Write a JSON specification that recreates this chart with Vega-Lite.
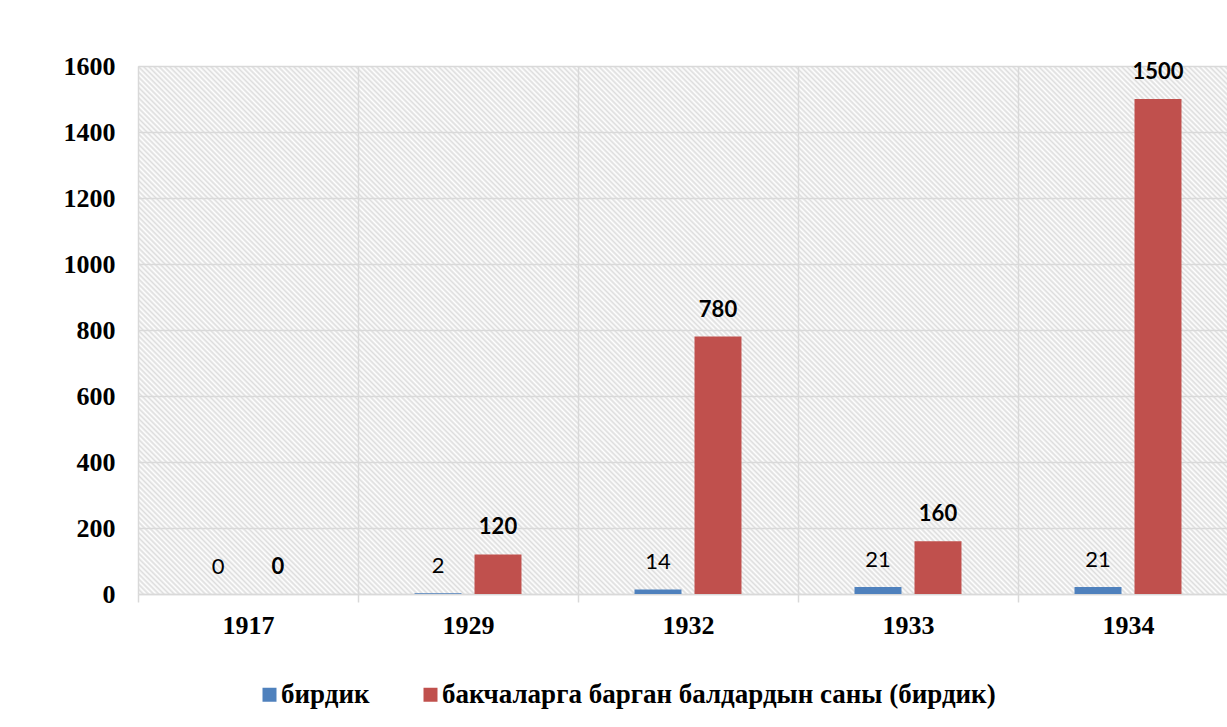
{
  "$schema": "https://vega.github.io/schema/vega-lite/v6.json",
  "autosize": {"type": "none"},
  "width": 1089,
  "height": 528,
  "padding": {"left": 138, "top": 66, "right": 0, "bottom": 133},
  "background": "white",
  "view": {"stroke": null, "fill": {"gradient": "linear", "x1": 0, "y1": 1, "x2": 1.20223, "y2": 0.4171, "stops": [
{"offset":0,"color":"#ddd"},{"offset":0.0016,"color":"#fff"},{"offset":0.0032,"color":"#ddd"},{"offset":0.0048,"color":"#fff"},{"offset":0.0064,"color":"#ddd"},{"offset":0.008,"color":"#fff"},{"offset":0.0096,"color":"#ddd"},{"offset":0.0112,"color":"#fff"},{"offset":0.0128,"color":"#ddd"},{"offset":0.0144,"color":"#fff"},{"offset":0.016,"color":"#ddd"},{"offset":0.0176,"color":"#fff"},{"offset":0.0192,"color":"#ddd"},{"offset":0.0208,"color":"#fff"},{"offset":0.0224,"color":"#ddd"},{"offset":0.024,"color":"#fff"},{"offset":0.0256,"color":"#ddd"},{"offset":0.0272,"color":"#fff"},{"offset":0.0288,"color":"#ddd"},{"offset":0.0304,"color":"#fff"},{"offset":0.032,"color":"#ddd"},{"offset":0.0336,"color":"#fff"},{"offset":0.0352,"color":"#ddd"},{"offset":0.0368,"color":"#fff"},{"offset":0.0384,"color":"#ddd"},
{"offset":0.04,"color":"#fff"},{"offset":0.0416,"color":"#ddd"},{"offset":0.0432,"color":"#fff"},{"offset":0.0448,"color":"#ddd"},{"offset":0.0464,"color":"#fff"},{"offset":0.048,"color":"#ddd"},{"offset":0.0496,"color":"#fff"},{"offset":0.0512,"color":"#ddd"},{"offset":0.0528,"color":"#fff"},{"offset":0.0544,"color":"#ddd"},{"offset":0.056,"color":"#fff"},{"offset":0.0576,"color":"#ddd"},{"offset":0.0592,"color":"#fff"},{"offset":0.0608,"color":"#ddd"},{"offset":0.0624,"color":"#fff"},{"offset":0.064,"color":"#ddd"},{"offset":0.0656,"color":"#fff"},{"offset":0.0672,"color":"#ddd"},{"offset":0.0688,"color":"#fff"},{"offset":0.0704,"color":"#ddd"},{"offset":0.072,"color":"#fff"},{"offset":0.0736,"color":"#ddd"},{"offset":0.0752,"color":"#fff"},{"offset":0.0768,"color":"#ddd"},{"offset":0.0784,"color":"#fff"},
{"offset":0.08,"color":"#ddd"},{"offset":0.0816,"color":"#fff"},{"offset":0.0832,"color":"#ddd"},{"offset":0.0848,"color":"#fff"},{"offset":0.0864,"color":"#ddd"},{"offset":0.088,"color":"#fff"},{"offset":0.0896,"color":"#ddd"},{"offset":0.0912,"color":"#fff"},{"offset":0.0928,"color":"#ddd"},{"offset":0.0944,"color":"#fff"},{"offset":0.096,"color":"#ddd"},{"offset":0.0976,"color":"#fff"},{"offset":0.0992,"color":"#ddd"},{"offset":0.1008,"color":"#fff"},{"offset":0.1024,"color":"#ddd"},{"offset":0.104,"color":"#fff"},{"offset":0.1056,"color":"#ddd"},{"offset":0.1072,"color":"#fff"},{"offset":0.1088,"color":"#ddd"},{"offset":0.1104,"color":"#fff"},{"offset":0.112,"color":"#ddd"},{"offset":0.1136,"color":"#fff"},{"offset":0.1152,"color":"#ddd"},{"offset":0.1168,"color":"#fff"},{"offset":0.1184,"color":"#ddd"},
{"offset":0.12,"color":"#fff"},{"offset":0.1216,"color":"#ddd"},{"offset":0.1232,"color":"#fff"},{"offset":0.1248,"color":"#ddd"},{"offset":0.1264,"color":"#fff"},{"offset":0.128,"color":"#ddd"},{"offset":0.1296,"color":"#fff"},{"offset":0.1312,"color":"#ddd"},{"offset":0.1328,"color":"#fff"},{"offset":0.1344,"color":"#ddd"},{"offset":0.136,"color":"#fff"},{"offset":0.1376,"color":"#ddd"},{"offset":0.1392,"color":"#fff"},{"offset":0.1408,"color":"#ddd"},{"offset":0.1424,"color":"#fff"},{"offset":0.144,"color":"#ddd"},{"offset":0.1456,"color":"#fff"},{"offset":0.1472,"color":"#ddd"},{"offset":0.1488,"color":"#fff"},{"offset":0.1504,"color":"#ddd"},{"offset":0.152,"color":"#fff"},{"offset":0.1536,"color":"#ddd"},{"offset":0.1552,"color":"#fff"},{"offset":0.1568,"color":"#ddd"},{"offset":0.1584,"color":"#fff"},
{"offset":0.16,"color":"#ddd"},{"offset":0.1616,"color":"#fff"},{"offset":0.1632,"color":"#ddd"},{"offset":0.1648,"color":"#fff"},{"offset":0.1664,"color":"#ddd"},{"offset":0.168,"color":"#fff"},{"offset":0.1696,"color":"#ddd"},{"offset":0.1712,"color":"#fff"},{"offset":0.1728,"color":"#ddd"},{"offset":0.1744,"color":"#fff"},{"offset":0.176,"color":"#ddd"},{"offset":0.1776,"color":"#fff"},{"offset":0.1792,"color":"#ddd"},{"offset":0.1808,"color":"#fff"},{"offset":0.1824,"color":"#ddd"},{"offset":0.184,"color":"#fff"},{"offset":0.1856,"color":"#ddd"},{"offset":0.1872,"color":"#fff"},{"offset":0.1888,"color":"#ddd"},{"offset":0.1904,"color":"#fff"},{"offset":0.192,"color":"#ddd"},{"offset":0.1936,"color":"#fff"},{"offset":0.1952,"color":"#ddd"},{"offset":0.1968,"color":"#fff"},{"offset":0.1984,"color":"#ddd"},
{"offset":0.2,"color":"#fff"},{"offset":0.2016,"color":"#ddd"},{"offset":0.2032,"color":"#fff"},{"offset":0.2048,"color":"#ddd"},{"offset":0.2064,"color":"#fff"},{"offset":0.208,"color":"#ddd"},{"offset":0.2096,"color":"#fff"},{"offset":0.2112,"color":"#ddd"},{"offset":0.2128,"color":"#fff"},{"offset":0.2144,"color":"#ddd"},{"offset":0.216,"color":"#fff"},{"offset":0.2176,"color":"#ddd"},{"offset":0.2192,"color":"#fff"},{"offset":0.2208,"color":"#ddd"},{"offset":0.2224,"color":"#fff"},{"offset":0.224,"color":"#ddd"},{"offset":0.2256,"color":"#fff"},{"offset":0.2272,"color":"#ddd"},{"offset":0.2288,"color":"#fff"},{"offset":0.2304,"color":"#ddd"},{"offset":0.232,"color":"#fff"},{"offset":0.2336,"color":"#ddd"},{"offset":0.2352,"color":"#fff"},{"offset":0.2368,"color":"#ddd"},{"offset":0.2384,"color":"#fff"},
{"offset":0.24,"color":"#ddd"},{"offset":0.2416,"color":"#fff"},{"offset":0.2432,"color":"#ddd"},{"offset":0.2448,"color":"#fff"},{"offset":0.2464,"color":"#ddd"},{"offset":0.248,"color":"#fff"},{"offset":0.2496,"color":"#ddd"},{"offset":0.2512,"color":"#fff"},{"offset":0.2528,"color":"#ddd"},{"offset":0.2544,"color":"#fff"},{"offset":0.256,"color":"#ddd"},{"offset":0.2576,"color":"#fff"},{"offset":0.2592,"color":"#ddd"},{"offset":0.2608,"color":"#fff"},{"offset":0.2624,"color":"#ddd"},{"offset":0.264,"color":"#fff"},{"offset":0.2656,"color":"#ddd"},{"offset":0.2672,"color":"#fff"},{"offset":0.2688,"color":"#ddd"},{"offset":0.2704,"color":"#fff"},{"offset":0.272,"color":"#ddd"},{"offset":0.2736,"color":"#fff"},{"offset":0.2752,"color":"#ddd"},{"offset":0.2768,"color":"#fff"},{"offset":0.2784,"color":"#ddd"},
{"offset":0.28,"color":"#fff"},{"offset":0.2816,"color":"#ddd"},{"offset":0.2832,"color":"#fff"},{"offset":0.2848,"color":"#ddd"},{"offset":0.2864,"color":"#fff"},{"offset":0.288,"color":"#ddd"},{"offset":0.2896,"color":"#fff"},{"offset":0.2912,"color":"#ddd"},{"offset":0.2928,"color":"#fff"},{"offset":0.2944,"color":"#ddd"},{"offset":0.296,"color":"#fff"},{"offset":0.2976,"color":"#ddd"},{"offset":0.2992,"color":"#fff"},{"offset":0.3008,"color":"#ddd"},{"offset":0.3024,"color":"#fff"},{"offset":0.304,"color":"#ddd"},{"offset":0.3056,"color":"#fff"},{"offset":0.3072,"color":"#ddd"},{"offset":0.3088,"color":"#fff"},{"offset":0.3104,"color":"#ddd"},{"offset":0.312,"color":"#fff"},{"offset":0.3136,"color":"#ddd"},{"offset":0.3152,"color":"#fff"},{"offset":0.3168,"color":"#ddd"},{"offset":0.3184,"color":"#fff"},
{"offset":0.32,"color":"#ddd"},{"offset":0.3216,"color":"#fff"},{"offset":0.3232,"color":"#ddd"},{"offset":0.3248,"color":"#fff"},{"offset":0.3264,"color":"#ddd"},{"offset":0.328,"color":"#fff"},{"offset":0.3296,"color":"#ddd"},{"offset":0.3312,"color":"#fff"},{"offset":0.3328,"color":"#ddd"},{"offset":0.3344,"color":"#fff"},{"offset":0.336,"color":"#ddd"},{"offset":0.3376,"color":"#fff"},{"offset":0.3392,"color":"#ddd"},{"offset":0.3408,"color":"#fff"},{"offset":0.3424,"color":"#ddd"},{"offset":0.344,"color":"#fff"},{"offset":0.3456,"color":"#ddd"},{"offset":0.3472,"color":"#fff"},{"offset":0.3488,"color":"#ddd"},{"offset":0.3504,"color":"#fff"},{"offset":0.352,"color":"#ddd"},{"offset":0.3536,"color":"#fff"},{"offset":0.3552,"color":"#ddd"},{"offset":0.3568,"color":"#fff"},{"offset":0.3584,"color":"#ddd"},
{"offset":0.36,"color":"#fff"},{"offset":0.3616,"color":"#ddd"},{"offset":0.3632,"color":"#fff"},{"offset":0.3648,"color":"#ddd"},{"offset":0.3664,"color":"#fff"},{"offset":0.368,"color":"#ddd"},{"offset":0.3696,"color":"#fff"},{"offset":0.3712,"color":"#ddd"},{"offset":0.3728,"color":"#fff"},{"offset":0.3744,"color":"#ddd"},{"offset":0.376,"color":"#fff"},{"offset":0.3776,"color":"#ddd"},{"offset":0.3792,"color":"#fff"},{"offset":0.3808,"color":"#ddd"},{"offset":0.3824,"color":"#fff"},{"offset":0.384,"color":"#ddd"},{"offset":0.3856,"color":"#fff"},{"offset":0.3872,"color":"#ddd"},{"offset":0.3888,"color":"#fff"},{"offset":0.3904,"color":"#ddd"},{"offset":0.392,"color":"#fff"},{"offset":0.3936,"color":"#ddd"},{"offset":0.3952,"color":"#fff"},{"offset":0.3968,"color":"#ddd"},{"offset":0.3984,"color":"#fff"},
{"offset":0.4,"color":"#ddd"},{"offset":0.4016,"color":"#fff"},{"offset":0.4032,"color":"#ddd"},{"offset":0.4048,"color":"#fff"},{"offset":0.4064,"color":"#ddd"},{"offset":0.408,"color":"#fff"},{"offset":0.4096,"color":"#ddd"},{"offset":0.4112,"color":"#fff"},{"offset":0.4128,"color":"#ddd"},{"offset":0.4144,"color":"#fff"},{"offset":0.416,"color":"#ddd"},{"offset":0.4176,"color":"#fff"},{"offset":0.4192,"color":"#ddd"},{"offset":0.4208,"color":"#fff"},{"offset":0.4224,"color":"#ddd"},{"offset":0.424,"color":"#fff"},{"offset":0.4256,"color":"#ddd"},{"offset":0.4272,"color":"#fff"},{"offset":0.4288,"color":"#ddd"},{"offset":0.4304,"color":"#fff"},{"offset":0.432,"color":"#ddd"},{"offset":0.4336,"color":"#fff"},{"offset":0.4352,"color":"#ddd"},{"offset":0.4368,"color":"#fff"},{"offset":0.4384,"color":"#ddd"},
{"offset":0.44,"color":"#fff"},{"offset":0.4416,"color":"#ddd"},{"offset":0.4432,"color":"#fff"},{"offset":0.4448,"color":"#ddd"},{"offset":0.4464,"color":"#fff"},{"offset":0.448,"color":"#ddd"},{"offset":0.4496,"color":"#fff"},{"offset":0.4512,"color":"#ddd"},{"offset":0.4528,"color":"#fff"},{"offset":0.4544,"color":"#ddd"},{"offset":0.456,"color":"#fff"},{"offset":0.4576,"color":"#ddd"},{"offset":0.4592,"color":"#fff"},{"offset":0.4608,"color":"#ddd"},{"offset":0.4624,"color":"#fff"},{"offset":0.464,"color":"#ddd"},{"offset":0.4656,"color":"#fff"},{"offset":0.4672,"color":"#ddd"},{"offset":0.4688,"color":"#fff"},{"offset":0.4704,"color":"#ddd"},{"offset":0.472,"color":"#fff"},{"offset":0.4736,"color":"#ddd"},{"offset":0.4752,"color":"#fff"},{"offset":0.4768,"color":"#ddd"},{"offset":0.4784,"color":"#fff"},
{"offset":0.48,"color":"#ddd"},{"offset":0.4816,"color":"#fff"},{"offset":0.4832,"color":"#ddd"},{"offset":0.4848,"color":"#fff"},{"offset":0.4864,"color":"#ddd"},{"offset":0.488,"color":"#fff"},{"offset":0.4896,"color":"#ddd"},{"offset":0.4912,"color":"#fff"},{"offset":0.4928,"color":"#ddd"},{"offset":0.4944,"color":"#fff"},{"offset":0.496,"color":"#ddd"},{"offset":0.4976,"color":"#fff"},{"offset":0.4992,"color":"#ddd"},{"offset":0.5008,"color":"#fff"},{"offset":0.5024,"color":"#ddd"},{"offset":0.504,"color":"#fff"},{"offset":0.5056,"color":"#ddd"},{"offset":0.5072,"color":"#fff"},{"offset":0.5088,"color":"#ddd"},{"offset":0.5104,"color":"#fff"},{"offset":0.512,"color":"#ddd"},{"offset":0.5136,"color":"#fff"},{"offset":0.5152,"color":"#ddd"},{"offset":0.5168,"color":"#fff"},{"offset":0.5184,"color":"#ddd"},
{"offset":0.52,"color":"#fff"},{"offset":0.5216,"color":"#ddd"},{"offset":0.5232,"color":"#fff"},{"offset":0.5248,"color":"#ddd"},{"offset":0.5264,"color":"#fff"},{"offset":0.528,"color":"#ddd"},{"offset":0.5296,"color":"#fff"},{"offset":0.5312,"color":"#ddd"},{"offset":0.5328,"color":"#fff"},{"offset":0.5344,"color":"#ddd"},{"offset":0.536,"color":"#fff"},{"offset":0.5376,"color":"#ddd"},{"offset":0.5392,"color":"#fff"},{"offset":0.5408,"color":"#ddd"},{"offset":0.5424,"color":"#fff"},{"offset":0.544,"color":"#ddd"},{"offset":0.5456,"color":"#fff"},{"offset":0.5472,"color":"#ddd"},{"offset":0.5488,"color":"#fff"},{"offset":0.5504,"color":"#ddd"},{"offset":0.552,"color":"#fff"},{"offset":0.5536,"color":"#ddd"},{"offset":0.5552,"color":"#fff"},{"offset":0.5568,"color":"#ddd"},{"offset":0.5584,"color":"#fff"},
{"offset":0.56,"color":"#ddd"},{"offset":0.5616,"color":"#fff"},{"offset":0.5632,"color":"#ddd"},{"offset":0.5648,"color":"#fff"},{"offset":0.5664,"color":"#ddd"},{"offset":0.568,"color":"#fff"},{"offset":0.5696,"color":"#ddd"},{"offset":0.5712,"color":"#fff"},{"offset":0.5728,"color":"#ddd"},{"offset":0.5744,"color":"#fff"},{"offset":0.576,"color":"#ddd"},{"offset":0.5776,"color":"#fff"},{"offset":0.5792,"color":"#ddd"},{"offset":0.5808,"color":"#fff"},{"offset":0.5824,"color":"#ddd"},{"offset":0.584,"color":"#fff"},{"offset":0.5856,"color":"#ddd"},{"offset":0.5872,"color":"#fff"},{"offset":0.5888,"color":"#ddd"},{"offset":0.5904,"color":"#fff"},{"offset":0.592,"color":"#ddd"},{"offset":0.5936,"color":"#fff"},{"offset":0.5952,"color":"#ddd"},{"offset":0.5968,"color":"#fff"},{"offset":0.5984,"color":"#ddd"},
{"offset":0.6,"color":"#fff"},{"offset":0.6016,"color":"#ddd"},{"offset":0.6032,"color":"#fff"},{"offset":0.6048,"color":"#ddd"},{"offset":0.6064,"color":"#fff"},{"offset":0.608,"color":"#ddd"},{"offset":0.6096,"color":"#fff"},{"offset":0.6112,"color":"#ddd"},{"offset":0.6128,"color":"#fff"},{"offset":0.6144,"color":"#ddd"},{"offset":0.616,"color":"#fff"},{"offset":0.6176,"color":"#ddd"},{"offset":0.6192,"color":"#fff"},{"offset":0.6208,"color":"#ddd"},{"offset":0.6224,"color":"#fff"},{"offset":0.624,"color":"#ddd"},{"offset":0.6256,"color":"#fff"},{"offset":0.6272,"color":"#ddd"},{"offset":0.6288,"color":"#fff"},{"offset":0.6304,"color":"#ddd"},{"offset":0.632,"color":"#fff"},{"offset":0.6336,"color":"#ddd"},{"offset":0.6352,"color":"#fff"},{"offset":0.6368,"color":"#ddd"},{"offset":0.6384,"color":"#fff"},
{"offset":0.64,"color":"#ddd"},{"offset":0.6416,"color":"#fff"},{"offset":0.6432,"color":"#ddd"},{"offset":0.6448,"color":"#fff"},{"offset":0.6464,"color":"#ddd"},{"offset":0.648,"color":"#fff"},{"offset":0.6496,"color":"#ddd"},{"offset":0.6512,"color":"#fff"},{"offset":0.6528,"color":"#ddd"},{"offset":0.6544,"color":"#fff"},{"offset":0.656,"color":"#ddd"},{"offset":0.6576,"color":"#fff"},{"offset":0.6592,"color":"#ddd"},{"offset":0.6608,"color":"#fff"},{"offset":0.6624,"color":"#ddd"},{"offset":0.664,"color":"#fff"},{"offset":0.6656,"color":"#ddd"},{"offset":0.6672,"color":"#fff"},{"offset":0.6688,"color":"#ddd"},{"offset":0.6704,"color":"#fff"},{"offset":0.672,"color":"#ddd"},{"offset":0.6736,"color":"#fff"},{"offset":0.6752,"color":"#ddd"},{"offset":0.6768,"color":"#fff"},{"offset":0.6784,"color":"#ddd"},
{"offset":0.68,"color":"#fff"},{"offset":0.6816,"color":"#ddd"},{"offset":0.6832,"color":"#fff"},{"offset":0.6848,"color":"#ddd"},{"offset":0.6864,"color":"#fff"},{"offset":0.688,"color":"#ddd"},{"offset":0.6896,"color":"#fff"},{"offset":0.6912,"color":"#ddd"},{"offset":0.6928,"color":"#fff"},{"offset":0.6944,"color":"#ddd"},{"offset":0.696,"color":"#fff"},{"offset":0.6976,"color":"#ddd"},{"offset":0.6992,"color":"#fff"},{"offset":0.7008,"color":"#ddd"},{"offset":0.7024,"color":"#fff"},{"offset":0.704,"color":"#ddd"},{"offset":0.7056,"color":"#fff"},{"offset":0.7072,"color":"#ddd"},{"offset":0.7088,"color":"#fff"},{"offset":0.7104,"color":"#ddd"},{"offset":0.712,"color":"#fff"},{"offset":0.7136,"color":"#ddd"},{"offset":0.7152,"color":"#fff"},{"offset":0.7168,"color":"#ddd"},{"offset":0.7184,"color":"#fff"},
{"offset":0.72,"color":"#ddd"},{"offset":0.7216,"color":"#fff"},{"offset":0.7232,"color":"#ddd"},{"offset":0.7248,"color":"#fff"},{"offset":0.7264,"color":"#ddd"},{"offset":0.728,"color":"#fff"},{"offset":0.7296,"color":"#ddd"},{"offset":0.7312,"color":"#fff"},{"offset":0.7328,"color":"#ddd"},{"offset":0.7344,"color":"#fff"},{"offset":0.736,"color":"#ddd"},{"offset":0.7376,"color":"#fff"},{"offset":0.7392,"color":"#ddd"},{"offset":0.7408,"color":"#fff"},{"offset":0.7424,"color":"#ddd"},{"offset":0.744,"color":"#fff"},{"offset":0.7456,"color":"#ddd"},{"offset":0.7472,"color":"#fff"},{"offset":0.7488,"color":"#ddd"},{"offset":0.7504,"color":"#fff"},{"offset":0.752,"color":"#ddd"},{"offset":0.7536,"color":"#fff"},{"offset":0.7552,"color":"#ddd"},{"offset":0.7568,"color":"#fff"},{"offset":0.7584,"color":"#ddd"},
{"offset":0.76,"color":"#fff"},{"offset":0.7616,"color":"#ddd"},{"offset":0.7632,"color":"#fff"},{"offset":0.7648,"color":"#ddd"},{"offset":0.7664,"color":"#fff"},{"offset":0.768,"color":"#ddd"},{"offset":0.7696,"color":"#fff"},{"offset":0.7712,"color":"#ddd"},{"offset":0.7728,"color":"#fff"},{"offset":0.7744,"color":"#ddd"},{"offset":0.776,"color":"#fff"},{"offset":0.7776,"color":"#ddd"},{"offset":0.7792,"color":"#fff"},{"offset":0.7808,"color":"#ddd"},{"offset":0.7824,"color":"#fff"},{"offset":0.784,"color":"#ddd"},{"offset":0.7856,"color":"#fff"},{"offset":0.7872,"color":"#ddd"},{"offset":0.7888,"color":"#fff"},{"offset":0.7904,"color":"#ddd"},{"offset":0.792,"color":"#fff"},{"offset":0.7936,"color":"#ddd"},{"offset":0.7952,"color":"#fff"},{"offset":0.7968,"color":"#ddd"},{"offset":0.7984,"color":"#fff"},
{"offset":0.8,"color":"#ddd"},{"offset":0.8016,"color":"#fff"},{"offset":0.8032,"color":"#ddd"},{"offset":0.8048,"color":"#fff"},{"offset":0.8064,"color":"#ddd"},{"offset":0.808,"color":"#fff"},{"offset":0.8096,"color":"#ddd"},{"offset":0.8112,"color":"#fff"},{"offset":0.8128,"color":"#ddd"},{"offset":0.8144,"color":"#fff"},{"offset":0.816,"color":"#ddd"},{"offset":0.8176,"color":"#fff"},{"offset":0.8192,"color":"#ddd"},{"offset":0.8208,"color":"#fff"},{"offset":0.8224,"color":"#ddd"},{"offset":0.824,"color":"#fff"},{"offset":0.8256,"color":"#ddd"},{"offset":0.8272,"color":"#fff"},{"offset":0.8288,"color":"#ddd"},{"offset":0.8304,"color":"#fff"},{"offset":0.832,"color":"#ddd"},{"offset":0.8336,"color":"#fff"},{"offset":0.8352,"color":"#ddd"},{"offset":0.8368,"color":"#fff"},{"offset":0.8384,"color":"#ddd"},
{"offset":0.84,"color":"#fff"},{"offset":0.8416,"color":"#ddd"},{"offset":0.8432,"color":"#fff"},{"offset":0.8448,"color":"#ddd"},{"offset":0.8464,"color":"#fff"},{"offset":0.848,"color":"#ddd"},{"offset":0.8496,"color":"#fff"},{"offset":0.8512,"color":"#ddd"},{"offset":0.8528,"color":"#fff"},{"offset":0.8544,"color":"#ddd"},{"offset":0.856,"color":"#fff"},{"offset":0.8576,"color":"#ddd"},{"offset":0.8592,"color":"#fff"},{"offset":0.8608,"color":"#ddd"},{"offset":0.8624,"color":"#fff"},{"offset":0.864,"color":"#ddd"},{"offset":0.8656,"color":"#fff"},{"offset":0.8672,"color":"#ddd"},{"offset":0.8688,"color":"#fff"},{"offset":0.8704,"color":"#ddd"},{"offset":0.872,"color":"#fff"},{"offset":0.8736,"color":"#ddd"},{"offset":0.8752,"color":"#fff"},{"offset":0.8768,"color":"#ddd"},{"offset":0.8784,"color":"#fff"},
{"offset":0.88,"color":"#ddd"},{"offset":0.8816,"color":"#fff"},{"offset":0.8832,"color":"#ddd"},{"offset":0.8848,"color":"#fff"},{"offset":0.8864,"color":"#ddd"},{"offset":0.888,"color":"#fff"},{"offset":0.8896,"color":"#ddd"},{"offset":0.8912,"color":"#fff"},{"offset":0.8928,"color":"#ddd"},{"offset":0.8944,"color":"#fff"},{"offset":0.896,"color":"#ddd"},{"offset":0.8976,"color":"#fff"},{"offset":0.8992,"color":"#ddd"},{"offset":0.9008,"color":"#fff"},{"offset":0.9024,"color":"#ddd"},{"offset":0.904,"color":"#fff"},{"offset":0.9056,"color":"#ddd"},{"offset":0.9072,"color":"#fff"},{"offset":0.9088,"color":"#ddd"},{"offset":0.9104,"color":"#fff"},{"offset":0.912,"color":"#ddd"},{"offset":0.9136,"color":"#fff"},{"offset":0.9152,"color":"#ddd"},{"offset":0.9168,"color":"#fff"},{"offset":0.9184,"color":"#ddd"},
{"offset":0.92,"color":"#fff"},{"offset":0.9216,"color":"#ddd"},{"offset":0.9232,"color":"#fff"},{"offset":0.9248,"color":"#ddd"},{"offset":0.9264,"color":"#fff"},{"offset":0.928,"color":"#ddd"},{"offset":0.9296,"color":"#fff"},{"offset":0.9312,"color":"#ddd"},{"offset":0.9328,"color":"#fff"},{"offset":0.9344,"color":"#ddd"},{"offset":0.936,"color":"#fff"},{"offset":0.9376,"color":"#ddd"},{"offset":0.9392,"color":"#fff"},{"offset":0.9408,"color":"#ddd"},{"offset":0.9424,"color":"#fff"},{"offset":0.944,"color":"#ddd"},{"offset":0.9456,"color":"#fff"},{"offset":0.9472,"color":"#ddd"},{"offset":0.9488,"color":"#fff"},{"offset":0.9504,"color":"#ddd"},{"offset":0.952,"color":"#fff"},{"offset":0.9536,"color":"#ddd"},{"offset":0.9552,"color":"#fff"},{"offset":0.9568,"color":"#ddd"},{"offset":0.9584,"color":"#fff"},
{"offset":0.96,"color":"#ddd"},{"offset":0.9616,"color":"#fff"},{"offset":0.9632,"color":"#ddd"},{"offset":0.9648,"color":"#fff"},{"offset":0.9664,"color":"#ddd"},{"offset":0.968,"color":"#fff"},{"offset":0.9696,"color":"#ddd"},{"offset":0.9712,"color":"#fff"},{"offset":0.9728,"color":"#ddd"},{"offset":0.9744,"color":"#fff"},{"offset":0.976,"color":"#ddd"},{"offset":0.9776,"color":"#fff"},{"offset":0.9792,"color":"#ddd"},{"offset":0.9808,"color":"#fff"},{"offset":0.9824,"color":"#ddd"},{"offset":0.984,"color":"#fff"},{"offset":0.9856,"color":"#ddd"},{"offset":0.9872,"color":"#fff"},{"offset":0.9888,"color":"#ddd"},{"offset":0.9904,"color":"#fff"},{"offset":0.992,"color":"#ddd"},{"offset":0.9936,"color":"#fff"},{"offset":0.9952,"color":"#ddd"},{"offset":0.9968,"color":"#fff"},{"offset":0.9984,"color":"#ddd"},
{"offset":1,"color":"#fff"}
  ]}},
  "data": {"values": [
    {"year": "1917", "series": "бирдик", "value": 0},
    {"year": "1917", "series": "бакчаларга барган балдардын саны (бирдик)", "value": 0},
    {"year": "1929", "series": "бирдик", "value": 2},
    {"year": "1929", "series": "бакчаларга барган балдардын саны (бирдик)", "value": 120},
    {"year": "1932", "series": "бирдик", "value": 14},
    {"year": "1932", "series": "бакчаларга барган балдардын саны (бирдик)", "value": 780},
    {"year": "1933", "series": "бирдик", "value": 21},
    {"year": "1933", "series": "бакчаларга барган балдардын саны (бирдик)", "value": 160},
    {"year": "1934", "series": "бирдик", "value": 21},
    {"year": "1934", "series": "бакчаларга барган балдардын саны (бирдик)", "value": 1500}
  ]},
  "encoding": {
    "x": {"field": "year", "type": "nominal", "title": null,
      "scale": {"domain": ["1917", "1929", "1932", "1933", "1934"], "range": [0, 1100], "paddingInner": 0, "paddingOuter": 0},
      "axis": {"labelAngle": 0, "labelFont": "Liberation Serif", "labelFontWeight": "bold", "labelFontSize": 26, "labelColor": "black",
        "labelPadding": 10, "tickBand": "extent", "tickSize": 8, "tickColor": "#d9d9d9", "tickWidth": 1.5,
        "grid": true, "gridColor": "#d9d9d9", "gridWidth": 1.5, "domainColor": "#d9d9d9", "domainWidth": 1.5}},
    "xOffset": {"field": "series", "type": "nominal",
      "scale": {"domain": ["бирдик", "бакчаларга барган балдардын саны (бирдик)"], "paddingInner": 0.217, "paddingOuter": 0.942}},
    "y": {"field": "value", "type": "quantitative", "title": null,
      "scale": {"domain": [0, 1600], "nice": false},
      "axis": {"values": [0, 200, 400, 600, 800, 1000, 1200, 1400, 1600], "format": "d", "labelFont": "Liberation Serif", "labelFontWeight": "bold",
        "labelFontSize": 26, "labelColor": "black", "labelPadding": 23, "ticks": false, "domain": false,
        "grid": true, "gridColor": "#d9d9d9", "gridWidth": 1.5}}
  },
  "layer": [
    {"mark": {"type": "bar"},
      "encoding": {"color": {"field": "series", "type": "nominal", "title": null,
        "scale": {"domain": ["бирдик", "бакчаларга барган балдардын саны (бирдик)"], "range": ["#4f81bd", "#c0504d"]},
        "legend": {"orient": "none", "legendX": 118, "legendY": 615, "direction": "horizontal", "symbolType": "square", "symbolSize": 196,
          "symbolStrokeWidth": 0, "labelFont": "Liberation Serif", "labelFontWeight": "bold", "labelFontSize": 27, "labelColor": "black",
          "labelOffset": -2, "columnPadding": 47, "labelLimit": 800, "padding": 0}}}},
    {"transform": [{"filter": "datum.series === 'бирдик'"}],
      "mark": {"type": "text", "font": "Lato", "fontSize": 22, "color": "black", "dy": -27, "baseline": "middle"},
      "encoding": {"text": {"field": "value", "type": "quantitative"}}},
    {"transform": [{"filter": "datum.series !== 'бирдик'"}],
      "mark": {"type": "text", "font": "Lato", "fontSize": 22, "fontWeight": "bold", "color": "black", "dy": -27, "baseline": "middle"},
      "encoding": {"text": {"field": "value", "type": "quantitative"}}}
  ]
}
